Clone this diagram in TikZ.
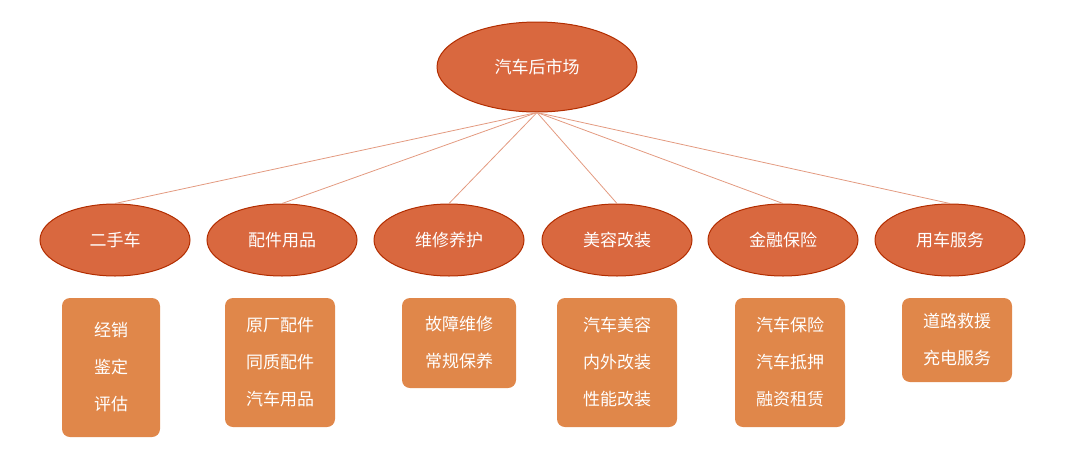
\documentclass[tikz,border=0pt]{standalone}
\usepackage{fontspec}
\newfontfamily\cjk{Noto Sans CJK SC}
\begin{document}
\begin{tikzpicture}[x=1pt,y=-1pt,
  ell/.style={ellipse,draw=orange!50!red!70!black,line width=1pt,fill=topc,text=white,font=\cjk\fontsize{17}{20}\selectfont,inner sep=0pt},
  leaf/.style={draw=none,fill=leafc,rounded corners=8pt,text=white,font=\cjk\fontsize{17}{37}\selectfont,align=center,inner sep=0pt},
  link/.style={draw=linkc,line width=0.8pt}]
\definecolor{topc}{HTML}{D9683F}
\definecolor{leafc}{HTML}{E0874A}
\definecolor{linkc}{HTML}{E39A80}
\useasboundingbox (0,0) rectangle (1080,472);
\usetikzlibrary{shapes.geometric}
\node[ell,minimum width=200,minimum height=90] (root) at (537,67) {汽车后市场};
\foreach \n/\x/\t in {a/115/二手车,b/282/配件用品,c/449/维修养护,d/617/美容改装,e/783/金融保险,f/950/用车服务}{
  \node[ell,minimum width=150,minimum height=72] (\n) at (\x,240) {\t};
  \draw[link] (root.south) -- (\n.north);
}
\node[leaf,minimum width=98,minimum height=139] (la) at (111,367.5) {经销\\鉴定\\评估};
\node[leaf,minimum width=110,minimum height=129] (lb) at (280,362.5) {原厂配件\\同质配件\\汽车用品};
\node[leaf,minimum width=114,minimum height=90] (lc) at (459,343) {故障维修\\常规保养};
\node[leaf,minimum width=120,minimum height=129] (ld) at (617,362.5) {汽车美容\\内外改装\\性能改装};
\node[leaf,minimum width=110,minimum height=129] (le) at (790,362.5) {汽车保险\\汽车抵押\\融资租赁};
\node[leaf,minimum width=110,minimum height=84] (lf) at (957,340) {道路救援\\充电服务};
\end{tikzpicture}
\end{document}
